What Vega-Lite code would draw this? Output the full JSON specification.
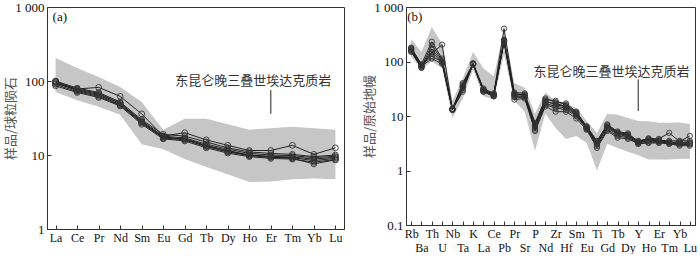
{
  "$schema": "https://vega.github.io/schema/vega-lite/v6.json",
  "background": "white",
  "padding": {"left": 4, "top": 0, "right": 0, "bottom": 0},
  "spacing": 18,
  "config": {
    "view": {"stroke": "#333", "strokeWidth": 1},
    "axis": {
      "grid": false,
      "domainColor": "#333",
      "tickColor": "#333",
      "tickSize": -4,
      "labelFont": "Liberation Serif",
      "labelFontSize": 12,
      "labelColor": "#111",
      "titleFont": "Noto Sans CJK SC",
      "titleFontSize": 13,
      "titleFontWeight": "normal",
      "titleColor": "#555"
    }
  },
  "datasets": {
    "aband": [
      {"e":"La","hi":204,"lo":71},{"e":"Ce","hi":150,"lo":55},{"e":"Pr","hi":113,"lo":45},{"e":"Nd","hi":83,"lo":35},
      {"e":"Sm","hi":52,"lo":14},{"e":"Eu","hi":22,"lo":12},{"e":"Gd","hi":31,"lo":8.8},{"e":"Tb","hi":31,"lo":6.9},
      {"e":"Dy","hi":26,"lo":5.5},{"e":"Ho","hi":22,"lo":4.3},{"e":"Er","hi":23,"lo":4.4},{"e":"Tm","hi":24,"lo":4.7},
      {"e":"Yb","hi":23,"lo":4.8},{"e":"Lu","hi":22,"lo":4.7}
    ],
    "asamp": [
      {"s":1,"e":"La","v":92},{"s":1,"e":"Ce","v":78},{"s":1,"e":"Pr","v":82},{"s":1,"e":"Nd","v":62},{"s":1,"e":"Sm","v":36},{"s":1,"e":"Eu","v":18},{"s":1,"e":"Gd","v":20},{"s":1,"e":"Tb","v":16},{"s":1,"e":"Dy","v":13.5},{"s":1,"e":"Ho","v":11.5},{"s":1,"e":"Er","v":11.5},{"s":1,"e":"Tm","v":13.5},{"s":1,"e":"Yb","v":10.2},{"s":1,"e":"Lu","v":12.5},
      {"s":2,"e":"La","v":100},{"s":2,"e":"Ce","v":80},{"s":2,"e":"Pr","v":70},{"s":2,"e":"Nd","v":52},{"s":2,"e":"Sm","v":30},{"s":2,"e":"Eu","v":19},{"s":2,"e":"Gd","v":18},{"s":2,"e":"Tb","v":15},{"s":2,"e":"Dy","v":12.5},{"s":2,"e":"Ho","v":11},{"s":2,"e":"Er","v":10.5},{"s":2,"e":"Tm","v":10.2},{"s":2,"e":"Yb","v":9.5},{"s":2,"e":"Lu","v":10},
      {"s":3,"e":"La","v":98},{"s":3,"e":"Ce","v":76},{"s":3,"e":"Pr","v":66},{"s":3,"e":"Nd","v":50},{"s":3,"e":"Sm","v":29},{"s":3,"e":"Eu","v":18},{"s":3,"e":"Gd","v":17},{"s":3,"e":"Tb","v":14},{"s":3,"e":"Dy","v":12},{"s":3,"e":"Ho","v":10.5},{"s":3,"e":"Er","v":10},{"s":3,"e":"Tm","v":9.8},{"s":3,"e":"Yb","v":9.2},{"s":3,"e":"Lu","v":9.6},
      {"s":4,"e":"La","v":95},{"s":4,"e":"Ce","v":74},{"s":4,"e":"Pr","v":64},{"s":4,"e":"Nd","v":48},{"s":4,"e":"Sm","v":28},{"s":4,"e":"Eu","v":17.5},{"s":4,"e":"Gd","v":16.5},{"s":4,"e":"Tb","v":13.5},{"s":4,"e":"Dy","v":11.5},{"s":4,"e":"Ho","v":10},{"s":4,"e":"Er","v":9.6},{"s":4,"e":"Tm","v":9.4},{"s":4,"e":"Yb","v":8.8},{"s":4,"e":"Lu","v":9.3},
      {"s":5,"e":"La","v":90},{"s":5,"e":"Ce","v":72},{"s":5,"e":"Pr","v":62},{"s":5,"e":"Nd","v":47},{"s":5,"e":"Sm","v":27},{"s":5,"e":"Eu","v":17},{"s":5,"e":"Gd","v":16},{"s":5,"e":"Tb","v":13},{"s":5,"e":"Dy","v":11},{"s":5,"e":"Ho","v":9.8},{"s":5,"e":"Er","v":9.3},{"s":5,"e":"Tm","v":9.2},{"s":5,"e":"Yb","v":8.4},{"s":5,"e":"Lu","v":9},
      {"s":6,"e":"La","v":86},{"s":6,"e":"Ce","v":70},{"s":6,"e":"Pr","v":60},{"s":6,"e":"Nd","v":46},{"s":6,"e":"Sm","v":26},{"s":6,"e":"Eu","v":16.5},{"s":6,"e":"Gd","v":15.5},{"s":6,"e":"Tb","v":12.5},{"s":6,"e":"Dy","v":10.6},{"s":6,"e":"Ho","v":9.5},{"s":6,"e":"Er","v":9},{"s":6,"e":"Tm","v":8.8},{"s":6,"e":"Yb","v":8},{"s":6,"e":"Lu","v":8.7},
      {"s":7,"e":"La","v":97},{"s":7,"e":"Ce","v":78},{"s":7,"e":"Pr","v":68},{"s":7,"e":"Nd","v":50},{"s":7,"e":"Sm","v":28},{"s":7,"e":"Eu","v":17},{"s":7,"e":"Gd","v":16.5},{"s":7,"e":"Tb","v":13.2},{"s":7,"e":"Dy","v":11.2},{"s":7,"e":"Ho","v":10},{"s":7,"e":"Er","v":9.4},{"s":7,"e":"Tm","v":9},{"s":7,"e":"Yb","v":7.6},{"s":7,"e":"Lu","v":8.6}
    ],
    "bband": [
      {"e":"Rb","hi":260,"lo":123},{"e":"Ba","hi":150,"lo":71},{"e":"Th","hi":430,"lo":100},{"e":"U","hi":210,"lo":75},
      {"e":"Nb","hi":19,"lo":9.2},{"e":"Ta","hi":49,"lo":21},{"e":"K","hi":150,"lo":71},{"e":"La","hi":75,"lo":23},
      {"e":"Ce","hi":53,"lo":20},{"e":"Pb","hi":380,"lo":134},{"e":"Pr","hi":40,"lo":19},{"e":"Sr","hi":33,"lo":12},
      {"e":"P","hi":11,"lo":2.3},{"e":"Nd","hi":27,"lo":11},{"e":"Zr","hi":19,"lo":6},{"e":"Hf","hi":17,"lo":3.8},
      {"e":"Sm","hi":14,"lo":4.3},{"e":"Eu","hi":8.1,"lo":3.2},{"e":"Ti","hi":4.9,"lo":1.0},{"e":"Gd","hi":11,"lo":3.1},
      {"e":"Tb","hi":10.5,"lo":2.6},{"e":"Dy","hi":9.2,"lo":2.2},{"e":"Y","hi":8.1,"lo":1.9},{"e":"Ho","hi":8,"lo":1.6},
      {"e":"Er","hi":7.5,"lo":1.6},{"e":"Tm","hi":7.5,"lo":1.6},{"e":"Yb","hi":7.6,"lo":1.65},{"e":"Lu","hi":7.1,"lo":1.65}
    ],
    "bsamp": [
      {"s":1,"e":"Rb","v":170},{"s":1,"e":"Ba","v":85},{"s":1,"e":"Th","v":140},{"s":1,"e":"U","v":204},{"s":1,"e":"Nb","v":13.5},{"s":1,"e":"Ta","v":35},{"s":1,"e":"K","v":90},{"s":1,"e":"La","v":30},{"s":1,"e":"Ce","v":25},{"s":1,"e":"Pb","v":400},{"s":1,"e":"Pr","v":26},{"s":1,"e":"Sr","v":24},{"s":1,"e":"P","v":7},{"s":1,"e":"Nd","v":21},{"s":1,"e":"Zr","v":18},{"s":1,"e":"Hf","v":17},{"s":1,"e":"Sm","v":12},{"s":1,"e":"Eu","v":6.3},{"s":1,"e":"Ti","v":3.4},{"s":1,"e":"Gd","v":7},{"s":1,"e":"Tb","v":5.2},{"s":1,"e":"Dy","v":4.8},{"s":1,"e":"Y","v":3.4},{"s":1,"e":"Ho","v":3.9},{"s":1,"e":"Er","v":3.8},{"s":1,"e":"Tm","v":4.9},{"s":1,"e":"Yb","v":3.4},{"s":1,"e":"Lu","v":4.3},
      {"s":2,"e":"Rb","v":180},{"s":2,"e":"Ba","v":89},{"s":2,"e":"Th","v":230},{"s":2,"e":"U","v":113},{"s":2,"e":"Nb","v":13.5},{"s":2,"e":"Ta","v":40},{"s":2,"e":"K","v":92},{"s":2,"e":"La","v":32},{"s":2,"e":"Ce","v":26},{"s":2,"e":"Pb","v":250},{"s":2,"e":"Pr","v":27},{"s":2,"e":"Sr","v":26},{"s":2,"e":"P","v":7.5},{"s":2,"e":"Nd","v":20},{"s":2,"e":"Zr","v":19},{"s":2,"e":"Hf","v":16},{"s":2,"e":"Sm","v":11.5},{"s":2,"e":"Eu","v":6.5},{"s":2,"e":"Ti","v":3.5},{"s":2,"e":"Gd","v":6.8},{"s":2,"e":"Tb","v":5},{"s":2,"e":"Dy","v":4.6},{"s":2,"e":"Y","v":3.5},{"s":2,"e":"Ho","v":3.8},{"s":2,"e":"Er","v":3.6},{"s":2,"e":"Tm","v":3.5},{"s":2,"e":"Yb","v":3.5},{"s":2,"e":"Lu","v":3.5},
      {"s":3,"e":"Rb","v":160},{"s":3,"e":"Ba","v":80},{"s":3,"e":"Th","v":200},{"s":3,"e":"U","v":105},{"s":3,"e":"Nb","v":13},{"s":3,"e":"Ta","v":38},{"s":3,"e":"K","v":90},{"s":3,"e":"La","v":31},{"s":3,"e":"Ce","v":25},{"s":3,"e":"Pb","v":240},{"s":3,"e":"Pr","v":24},{"s":3,"e":"Sr","v":25},{"s":3,"e":"P","v":6.5},{"s":3,"e":"Nd","v":18},{"s":3,"e":"Zr","v":17},{"s":3,"e":"Hf","v":15},{"s":3,"e":"Sm","v":11},{"s":3,"e":"Eu","v":6.2},{"s":3,"e":"Ti","v":3.2},{"s":3,"e":"Gd","v":6.3},{"s":3,"e":"Tb","v":4.8},{"s":3,"e":"Dy","v":4.4},{"s":3,"e":"Y","v":3.3},{"s":3,"e":"Ho","v":3.6},{"s":3,"e":"Er","v":3.5},{"s":3,"e":"Tm","v":3.3},{"s":3,"e":"Yb","v":3.3},{"s":3,"e":"Lu","v":3.3},
      {"s":4,"e":"Rb","v":155},{"s":4,"e":"Ba","v":78},{"s":4,"e":"Th","v":170},{"s":4,"e":"U","v":100},{"s":4,"e":"Nb","v":13},{"s":4,"e":"Ta","v":33},{"s":4,"e":"K","v":88},{"s":4,"e":"La","v":29},{"s":4,"e":"Ce","v":24},{"s":4,"e":"Pb","v":235},{"s":4,"e":"Pr","v":23},{"s":4,"e":"Sr","v":23},{"s":4,"e":"P","v":6},{"s":4,"e":"Nd","v":17},{"s":4,"e":"Zr","v":15},{"s":4,"e":"Hf","v":14},{"s":4,"e":"Sm","v":10.5},{"s":4,"e":"Eu","v":6},{"s":4,"e":"Ti","v":3.0},{"s":4,"e":"Gd","v":6},{"s":4,"e":"Tb","v":4.6},{"s":4,"e":"Dy","v":4.2},{"s":4,"e":"Y","v":3.2},{"s":4,"e":"Ho","v":3.5},{"s":4,"e":"Er","v":3.4},{"s":4,"e":"Tm","v":3.2},{"s":4,"e":"Yb","v":3.1},{"s":4,"e":"Lu","v":3.1},
      {"s":5,"e":"Rb","v":150},{"s":5,"e":"Ba","v":76},{"s":5,"e":"Th","v":150},{"s":5,"e":"U","v":95},{"s":5,"e":"Nb","v":13},{"s":5,"e":"Ta","v":30},{"s":5,"e":"K","v":89},{"s":5,"e":"La","v":28},{"s":5,"e":"Ce","v":23},{"s":5,"e":"Pb","v":230},{"s":5,"e":"Pr","v":22},{"s":5,"e":"Sr","v":22},{"s":5,"e":"P","v":5.6},{"s":5,"e":"Nd","v":16},{"s":5,"e":"Zr","v":14},{"s":5,"e":"Hf","v":13},{"s":5,"e":"Sm","v":10},{"s":5,"e":"Eu","v":5.8},{"s":5,"e":"Ti","v":2.8},{"s":5,"e":"Gd","v":5.6},{"s":5,"e":"Tb","v":4.3},{"s":5,"e":"Dy","v":4.0},{"s":5,"e":"Y","v":3.1},{"s":5,"e":"Ho","v":3.3},{"s":5,"e":"Er","v":3.3},{"s":5,"e":"Tm","v":3.1},{"s":5,"e":"Yb","v":3.0},{"s":5,"e":"Lu","v":3.0},
      {"s":6,"e":"Rb","v":165},{"s":6,"e":"Ba","v":82},{"s":6,"e":"Th","v":113},{"s":6,"e":"U","v":91},{"s":6,"e":"Nb","v":13.2},{"s":6,"e":"Ta","v":28},{"s":6,"e":"K","v":91},{"s":6,"e":"La","v":28},{"s":6,"e":"Ce","v":23},{"s":6,"e":"Pb","v":232},{"s":6,"e":"Pr","v":20},{"s":6,"e":"Sr","v":21},{"s":6,"e":"P","v":5.3},{"s":6,"e":"Nd","v":15},{"s":6,"e":"Zr","v":12},{"s":6,"e":"Hf","v":12},{"s":6,"e":"Sm","v":9},{"s":6,"e":"Eu","v":5.6},{"s":6,"e":"Ti","v":2.6},{"s":6,"e":"Gd","v":5.3},{"s":6,"e":"Tb","v":4.0},{"s":6,"e":"Dy","v":3.8},{"s":6,"e":"Y","v":3.1},{"s":6,"e":"Ho","v":3.2},{"s":6,"e":"Er","v":3.2},{"s":6,"e":"Tm","v":3.1},{"s":6,"e":"Yb","v":2.85},{"s":6,"e":"Lu","v":2.85},
      {"s":7,"e":"Rb","v":175},{"s":7,"e":"Ba","v":86},{"s":7,"e":"Th","v":125},{"s":7,"e":"U","v":98},{"s":7,"e":"Nb","v":13.4},{"s":7,"e":"Ta","v":36},{"s":7,"e":"K","v":92},{"s":7,"e":"La","v":30},{"s":7,"e":"Ce","v":24},{"s":7,"e":"Pb","v":245},{"s":7,"e":"Pr","v":25},{"s":7,"e":"Sr","v":24},{"s":7,"e":"P","v":6.8},{"s":7,"e":"Nd","v":19},{"s":7,"e":"Zr","v":16},{"s":7,"e":"Hf","v":15},{"s":7,"e":"Sm","v":11},{"s":7,"e":"Eu","v":6.1},{"s":7,"e":"Ti","v":3.1},{"s":7,"e":"Gd","v":6.5},{"s":7,"e":"Tb","v":4.9},{"s":7,"e":"Dy","v":4.5},{"s":7,"e":"Y","v":3.3},{"s":7,"e":"Ho","v":3.7},{"s":7,"e":"Er","v":3.5},{"s":7,"e":"Tm","v":3.3},{"s":7,"e":"Yb","v":3.2},{"s":7,"e":"Lu","v":3.2}
    ]
  },
  "hconcat": [
    {
      "width": 297,
      "height": 222,
      "encoding": {
        "x": {"field": "e", "type": "nominal", "title": null,
          "scale": {"type": "point", "padding": 0.4, "domain": ["La","Ce","Pr","Nd","Sm","Eu","Gd","Tb","Dy","Ho","Er","Tm","Yb","Lu"]},
          "axis": {"labelAngle": 0, "labelPadding": 7, "domain": true}}
      },
      "layer": [
        {
          "data": {"name": "aband"},
          "mark": {"type": "area", "color": "#c6c6c6", "opacity": 1},
          "encoding": {
            "y": {"field": "hi", "type": "quantitative", "title": "样品/球粒陨石",
              "scale": {"type": "log", "domain": [1, 1000], "nice": false},
              "axis": {"values": [1, 10, 100, 1000], "labelFontSize": 13, "labelExpr": "datum.value >= 1000 ? '1 000' : format(datum.value, 'd')", "labelPadding": 7, "titlePadding": -3}},
            "y2": {"field": "lo"}
          }
        },
        {
          "data": {"name": "asamp"},
          "mark": {"type": "line", "color": "#222", "strokeWidth": 1},
          "encoding": {"y": {"field": "v", "type": "quantitative"}, "detail": {"field": "s"}}
        },
        {
          "data": {"name": "asamp"},
          "mark": {"type": "point", "shape": "circle", "filled": false, "stroke": "#333", "strokeWidth": 0.9, "size": 34, "opacity": 1},
          "encoding": {"y": {"field": "v", "type": "quantitative"}}
        },
        {
          "data": {"values": [{"e": "Ho", "v": 100, "t": "东昆仑晚三叠世埃达克质岩"}]},
          "mark": {"type": "text", "font": "Noto Sans CJK SC", "fontSize": 13, "color": "#333", "align": "center", "baseline": "middle", "dx": 4},
          "encoding": {"y": {"field": "v", "type": "quantitative"}, "text": {"field": "t"}}
        },
        {
          "data": {"values": [{"e": "Er", "v": 75, "v2": 36}]},
          "mark": {"type": "rule", "color": "#222", "strokeWidth": 1},
          "encoding": {"y": {"field": "v", "type": "quantitative"}, "y2": {"field": "v2"}}
        },
        {
          "data": {"values": [{"e": "La", "v": 730, "t": "(a)"}]},
          "mark": {"type": "text", "font": "Liberation Serif", "fontSize": 13, "color": "#111", "align": "left", "baseline": "middle", "dx": -3},
          "encoding": {"y": {"field": "v", "type": "quantitative"}, "text": {"field": "t"}}
        }
      ]
    },
    {
      "width": 289,
      "height": 218,
      "encoding": {
        "x": {"field": "e", "type": "nominal", "title": null,
          "scale": {"type": "point", "padding": 0.5, "domain": ["Rb","Ba","Th","U","Nb","Ta","K","La","Ce","Pb","Pr","Sr","P","Nd","Zr","Hf","Sm","Eu","Ti","Gd","Tb","Dy","Y","Ho","Er","Tm","Yb","Lu"]},
          "axis": {"labelAngle": 0,
            "labelPadding": {"condition": {"test": "indexof(['Ba','U','Ta','La','Pb','Sr','Nd','Hf','Eu','Gd','Dy','Ho','Tm','Lu'], datum.value) >= 0", "value": 21}, "value": 7}}}
      },
      "layer": [
        {
          "data": {"name": "bband"},
          "mark": {"type": "area", "color": "#c6c6c6", "opacity": 1},
          "encoding": {
            "y": {"field": "hi", "type": "quantitative", "title": "样品/原始地幔",
              "scale": {"type": "log", "domain": [0.1, 1000], "nice": false},
              "axis": {"values": [0.1, 1, 10, 100, 1000], "labelFontSize": 13, "labelExpr": "datum.value >= 1000 ? '1 000' : datum.value < 1 ? '0.1' : format(datum.value, 'd')", "labelPadding": 7, "titlePadding": -3}},
            "y2": {"field": "lo"}
          }
        },
        {
          "data": {"name": "bsamp"},
          "mark": {"type": "line", "color": "#222", "strokeWidth": 1},
          "encoding": {"y": {"field": "v", "type": "quantitative"}, "detail": {"field": "s"}}
        },
        {
          "data": {"name": "bsamp"},
          "mark": {"type": "point", "shape": "circle", "filled": false, "stroke": "#333", "strokeWidth": 0.9, "size": 28, "opacity": 1},
          "encoding": {"y": {"field": "v", "type": "quantitative"}}
        },
        {
          "data": {"values": [{"e": "Tb", "v": 63, "t": "东昆仑晚三叠世埃达克质岩"}]},
          "mark": {"type": "text", "font": "Noto Sans CJK SC", "fontSize": 13, "color": "#333", "align": "center", "baseline": "middle", "dx": -6},
          "encoding": {"y": {"field": "v", "type": "quantitative"}, "text": {"field": "t"}}
        },
        {
          "data": {"values": [{"e": "Y", "v": 47, "v2": 12.3}]},
          "mark": {"type": "rule", "color": "#222", "strokeWidth": 1},
          "encoding": {"y": {"field": "v", "type": "quantitative"}, "y2": {"field": "v2"}}
        },
        {
          "data": {"values": [{"e": "Rb", "v": 660, "t": "(b)"}]},
          "mark": {"type": "text", "font": "Liberation Serif", "fontSize": 13, "color": "#111", "align": "left", "baseline": "middle", "dx": -4},
          "encoding": {"y": {"field": "v", "type": "quantitative"}, "text": {"field": "t"}}
        }
      ]
    }
  ]
}
